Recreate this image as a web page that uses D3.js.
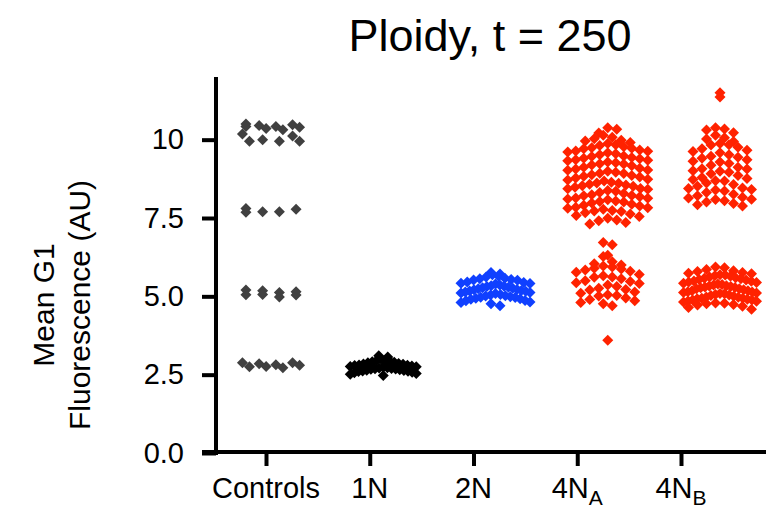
<!DOCTYPE html>
<html>
<head>
<meta charset="utf-8">
<script src="https://cdn.jsdelivr.net/npm/d3@7"></script>
<style>
  body { margin: 0; background: #fff; }
  text { font-family: "Liberation Sans", Arial, sans-serif; }
</style>
</head>
<body>
<div id="svgBody"></div>
<script>
// categories and values
var categories = ["Controls", "1N", "2N", "4NA", "4NB"];
var yTicks = [0, 2.5, 5, 7.5, 10];

// control replicates (one column each)
var controls1 = [10.5, 10.42, 10.18, 9.95, 7.8, 7.68, 5.2, 5.05, 2.88, 2.75];
var controls2 = [10.45, 10.36, 10.0, 7.7, 5.18, 5.06, 2.85, 2.76];
var controls3 = [10.42, 10.32, 9.95, 7.7, 5.12, 4.98, 2.82, 2.72];
var controls4 = [10.48, 10.4, 10.12, 9.95, 7.78, 5.15, 5.04, 2.88, 2.8];

var oneN = [2.97, 3.06, 2.91, 2.86, 3.1, 2.81, 2.93, 2.99, 2.76, 2.71, 2.84, 2.66,
            2.62, 2.72, 2.79, 2.56, 2.47, 2.61, 2.74, 2.67, 2.88, 2.95, 2.69, 2.58,
            2.54, 2.83, 2.78, 2.7, 2.64, 2.6, 2.75, 2.51, 2.9, 2.8, 2.68, 2.63];

var twoN = [5.76, 5.71, 5.64, 5.62, 5.69, 5.56, 5.51, 5.58, 5.46, 5.41, 5.52, 5.36,
            5.31, 5.39, 5.27, 5.21, 5.29, 5.16, 5.11, 5.19, 5.06, 5.01, 5.12, 4.96,
            4.91, 5.02, 4.86, 4.82, 4.92, 4.76, 4.7, 4.8, 5.44, 5.34, 5.24, 5.14,
            5.04, 4.97, 5.54, 5.32, 5.22, 5.09, 4.99, 4.87, 5.42, 5.26, 5.17, 4.94];

var fourNA = [10.38, 10.33, 10.21, 10.14, 10.08, 10.03, 9.98, 9.96, 9.91, 9.88, 9.84, 9.81,
              9.77, 9.74, 9.71, 9.67, 9.64, 9.61, 9.58, 9.55, 9.52, 9.48, 9.46, 9.43,
              9.39, 9.36, 9.33, 9.29, 9.26, 9.22, 9.19, 9.17, 9.12, 9.09, 9.06, 9.02,
              8.99, 8.96, 8.92, 8.88, 8.86, 8.81, 8.78, 8.74, 8.71, 8.68, 8.64, 8.61,
              8.58, 8.55, 8.51, 8.48, 8.44, 8.42, 8.38, 8.35, 8.31, 8.28, 8.24, 8.21,
              8.18, 8.14, 8.11, 8.08, 8.04, 8.01, 7.98, 7.94, 7.91, 7.88, 7.84, 7.81,
              7.78, 7.74, 7.71, 7.67, 7.63, 7.58, 7.55, 7.49, 7.44, 7.41, 7.36, 7.31,
              9.63, 9.41, 9.23, 9.03, 8.83, 8.62, 8.43, 8.22, 8.03, 7.83, 9.73, 9.34,
              8.93, 8.53, 8.13, 7.72,
              6.72, 6.65, 6.31, 6.27, 6.1, 6.04, 6.0, 5.97, 5.94, 5.9, 5.87, 5.84,
              5.8, 5.77, 5.7, 5.66, 5.61, 5.56, 5.5, 5.47, 5.41, 5.36, 5.31, 5.26,
              5.2, 5.14, 5.1, 5.05, 5.01, 4.95, 4.9, 4.86, 4.8, 4.76, 4.7, 5.62,
              5.43, 5.22, 5.03, 3.6];

var fourNB = [11.5, 11.36,
              10.38, 10.34, 10.31, 10.22, 10.14, 10.06, 10.02, 9.94, 9.88, 9.83,
              9.76, 9.71, 9.66, 9.58, 9.52, 9.47, 9.41, 9.36, 9.29, 9.24, 9.18, 9.12,
              9.07, 9.01, 8.96, 8.91, 8.86, 8.79, 8.73, 8.68, 8.62, 8.57, 8.51, 8.46,
              8.41, 8.36, 8.31, 8.26, 8.21, 8.16, 8.1, 8.05, 8.01, 7.96, 7.92, 7.88,
              9.62, 9.31, 8.99, 8.69, 8.39, 8.09, 9.84, 9.44, 9.06, 8.76, 8.44, 8.14,
              5.94, 5.91, 5.86, 5.82, 5.79, 5.76, 5.72, 5.69, 5.66, 5.62, 5.59, 5.56,
              5.52, 5.49, 5.46, 5.42, 5.39, 5.36, 5.33, 5.3, 5.27, 5.24, 5.21, 5.18,
              5.15, 5.12, 5.09, 5.06, 5.03, 5.0, 4.97, 4.94, 4.91, 4.88, 4.85, 4.82,
              4.79, 4.76, 4.72, 4.68, 4.64, 4.59, 5.74, 5.64, 5.54, 5.44, 5.34, 5.24,
              5.14, 5.04, 4.94, 4.84, 4.74, 5.68, 5.48, 5.28, 5.08, 4.88, 5.58, 5.38,
              5.18, 4.98, 4.78, 5.31, 5.11, 4.92];

var colors = ["#404040", "#000000", "#1040ff", "#ff2200", "#ff2200"];

var width = 766, height = 508;

var svg = d3.select("#svgBody")
    .append("svg")
    .attr("width", width)
    .attr("height", height);

var y = d3.scaleLinear().domain([0, 12]).range([453, 77]);

// tick positions and swarm centres do not line up in the original figure
var xTick = d3.scalePoint().domain(categories).range([266, 681]);
var xData = d3.scaleLinear().domain([0, 4]).range([271, 720]);

function diamond(r) {
    return "M0," + (-r) + "L" + r + ",0L0," + r + "L" + (-r) + ",0Z";
}

// plotSpread-like layout: bin the values, spread each bin across the width,
// highest value in the middle
function spread(values, bw, step, maxW) {
    var bins = d3.group(values, function(v) { return Math.floor(v / bw); });
    var out = [];
    bins.forEach(function(vals) {
        vals = vals.slice().sort(d3.descending);
        var n = vals.length;
        var s = n > 1 ? Math.min(step, maxW / (n - 1)) : 0;
        vals.forEach(function(v, i) {
            var k = Math.ceil(i / 2) * (i % 2 ? 1 : -1);
            var off = n % 2 ? k * s : (i % 2 ? (Math.ceil(i / 2) - 0.5) : -(Math.floor(i / 2) + 0.5)) * s;
            out.push({v: v, py: y(v), ox: off});
        });
    });
    return out;
}

var groups = [];
[controls1, controls2, controls3, controls4].forEach(function(vals, j) {
    spread(vals, 0.3, 7, 7).forEach(function(p) {
        groups.push({x: xData(0) + (j - 1.5) * 16.7 + p.ox, y: p.py, c: colors[0]});
    });
});
[[oneN, 0.25, 9, 66], [twoN, 0.3, 9, 69], [fourNA, 0.3, 9, 80], [fourNB, 0.3, 9, 73]].forEach(function(g, i) {
    spread(g[0], g[1], g[2], g[3]).forEach(function(p) {
        groups.push({x: xData(i + 1) + p.ox, y: p.py, c: colors[i + 1]});
    });
});

svg.append("g").selectAll("path")
    .data(groups)
    .enter()
    .append("path")
    .attr("d", diamond(5.5))
    .attr("transform", function(d) { return "translate(" + d.x + "," + d.y + ")"; })
    .attr("fill", function(d) { return d.c; });

// y axis
var yAxis = svg.append("g")
    .attr("transform", "translate(216,0)")
    .call(d3.axisLeft(y).tickValues(yTicks).tickSize(14).tickPadding(18)
        .tickFormat(function(d) { return d === 10 ? "10" : d3.format(".1f")(d); }));
yAxis.select(".domain").attr("d", "M0,77V455").attr("stroke-width", 4).attr("stroke", "#000");
yAxis.selectAll(".tick line").attr("stroke-width", 4).attr("stroke", "#000");
yAxis.selectAll(".tick text").attr("font-size", "29px").attr("fill", "#000")
    .attr("font-family", "Liberation Sans, Arial, sans-serif");

// x axis
var xAxis = svg.append("g")
    .attr("transform", "translate(0,452)")
    .call(d3.axisBottom(xTick).tickSize(14).tickPadding(10).tickFormat(""));
xAxis.select(".domain").attr("d", "M202,0H766").attr("stroke-width", 4).attr("stroke", "#000");
xAxis.selectAll(".tick line").attr("stroke-width", 4).attr("stroke", "#000");

var labels = [["Controls", ""], ["1N", ""], ["2N", ""], ["4N", "A"], ["4N", "B"]];
labels.forEach(function(l, i) {
    var t = svg.append("text")
        .attr("x", xTick(categories[i]))
        .attr("y", 498)
        .attr("text-anchor", "middle")
        .attr("font-size", "29px")
        .attr("font-family", "Liberation Sans, Arial, sans-serif");
    t.append("tspan").text(l[0]);
    if (l[1]) {
        t.append("tspan").attr("dy", 7).attr("font-size", "21px").text(l[1]);
    }
});

// title
svg.append("text")
    .attr("x", 490)
    .attr("y", 51)
    .attr("text-anchor", "middle")
    .attr("font-size", "45px")
    .attr("font-family", "Liberation Sans, Arial, sans-serif")
    .text("Ploidy, t = 250");

// y label
var yLab = svg.append("text")
    .attr("transform", "translate(0,305) rotate(-90)")
    .attr("text-anchor", "middle")
    .attr("font-size", "30px")
    .attr("font-family", "Liberation Sans, Arial, sans-serif");
yLab.append("tspan").attr("x", 0).attr("y", 54).text("Mean G1");
yLab.append("tspan").attr("x", 0).attr("y", 90).text("Fluorescence (AU)");
</script>
</body>
</html>
